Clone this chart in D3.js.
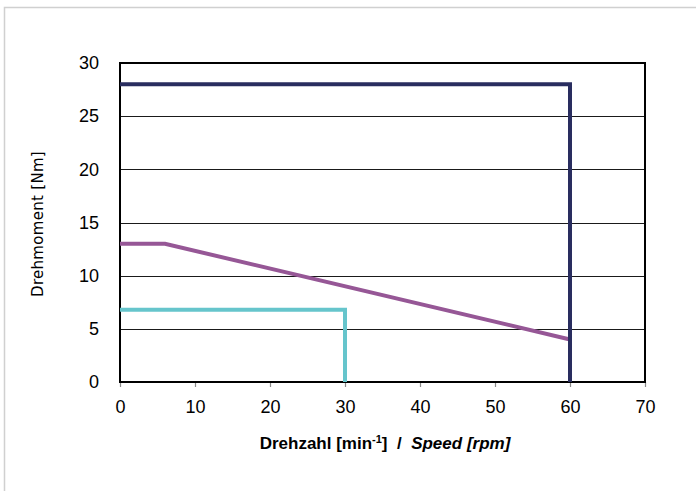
<!DOCTYPE html>
<html>
<head>
<meta charset="utf-8">
<script src="https://cdn.jsdelivr.net/npm/d3@7"></script>
<style>
  html, body { margin: 0; padding: 0; background: #fff; }
  svg { display: block; }
  .pre { white-space: pre; }
</style>
</head>
<body>
<svg id="chart" width="696" height="491"></svg>
<script>
// Torque vs. speed limits for three motor variants
const xTicks = [0, 10, 20, 30, 40, 50, 60, 70];
const yTicks = [0, 5, 10, 15, 20, 25, 30];

const navySpeed = [0, 60, 60];
const navyTorque = [28, 28, 0];

const purpleSpeed = [0, 6, 60];
const purpleTorque = [13, 13, 4];

const cyanSpeed = [0, 30, 30];
const cyanTorque = [6.8, 6.8, 0];

const series = [
  { xs: cyanSpeed, ys: cyanTorque, color: "#66c5cc" },
  { xs: purpleSpeed, ys: purpleTorque, color: "#965796" },
  { xs: navySpeed, ys: navyTorque, color: "#292d5f" }
];

const svg = d3.select("#chart");
const W = 696, H = 491;
const m = { left: 120, top: 63, right: 645, bottom: 382 };

// outer frame (top and left edges visible)
svg.append("path")
  .attr("d", `M4.5,${H} V7.5 H${W}`)
  .attr("fill", "none")
  .attr("stroke", "#d0d0d0")
  .attr("stroke-width", 1.5);

const x = d3.scaleLinear().domain([0, 70]).range([m.left, m.right]);
const y = d3.scaleLinear().domain([0, 30]).range([m.bottom, m.top]);

// horizontal gridlines
svg.append("g")
  .selectAll("line")
  .data(yTicks.filter(v => v > 0 && v < 30))
  .join("line")
  .attr("x1", m.left).attr("x2", m.right)
  .attr("y1", d => Math.round(y(d)) + 0.5)
  .attr("y2", d => Math.round(y(d)) + 0.5)
  .attr("stroke", "#1a1a1a")
  .attr("stroke-width", 1);

// x axis tick marks and labels
const xAxis = d3.axisBottom(x).tickValues(xTicks).tickSize(5).tickPadding(13).tickFormat(d3.format("d"));
const gx = svg.append("g").attr("transform", `translate(0,${m.bottom})`).call(xAxis);
gx.select(".domain").remove();
gx.selectAll(".tick line").attr("stroke", "#888").attr("stroke-width", 1.2);
gx.selectAll(".tick text")
  .attr("font-family", "Liberation Sans, Arial, sans-serif")
  .attr("font-size", 18)
  .attr("fill", "#000");

// y axis labels (no tick marks)
const yAxis = d3.axisLeft(y).tickValues(yTicks).tickSize(0).tickPadding(21).tickFormat(d3.format("d"));
const gy = svg.append("g").attr("transform", `translate(${m.left},0)`).call(yAxis);
gy.select(".domain").remove();
gy.selectAll(".tick text")
  .attr("font-family", "Liberation Sans, Arial, sans-serif")
  .attr("font-size", 18)
  .attr("fill", "#000");

// plot area border
svg.append("rect")
  .attr("x", m.left).attr("y", m.top)
  .attr("width", m.right - m.left).attr("height", m.bottom - m.top)
  .attr("fill", "none")
  .attr("stroke", "#000")
  .attr("stroke-width", 2);

// curves
const line = d3.line().x(d => x(d[0])).y(d => y(d[1]));
svg.append("g")
  .selectAll("path")
  .data(series)
  .join("path")
  .attr("d", s => line(s.xs.map((v, i) => [v, s.ys[i]])))
  .attr("fill", "none")
  .attr("stroke", s => s.color)
  .attr("stroke-width", 4)
  .attr("stroke-linejoin", "miter");

// axis titles
svg.append("text")
  .attr("transform", `translate(43,224) rotate(-90)`)
  .attr("text-anchor", "middle")
  .attr("font-family", "DejaVu Sans, sans-serif")
  .attr("font-size", 15)
  .attr("letter-spacing", 0.3)
  .attr("fill", "#000")
  .text("Drehmoment [Nm]");

const xt = svg.append("text")
  .attr("class", "pre")
  .attr("x", 385).attr("y", 449)
  .attr("text-anchor", "middle")
  .attr("font-family", "Liberation Sans, Arial, sans-serif")
  .attr("font-size", 17)
  .attr("font-weight", "bold")
  .attr("fill", "#000");
xt.append("tspan").text("Drehzahl [min");
xt.append("tspan").attr("dy", -6).attr("font-size", 11).text("-1");
xt.append("tspan").attr("dy", 6).text("]  /  ");
xt.append("tspan").attr("font-style", "italic").text("Speed [rpm]");
</script>
</body>
</html>
